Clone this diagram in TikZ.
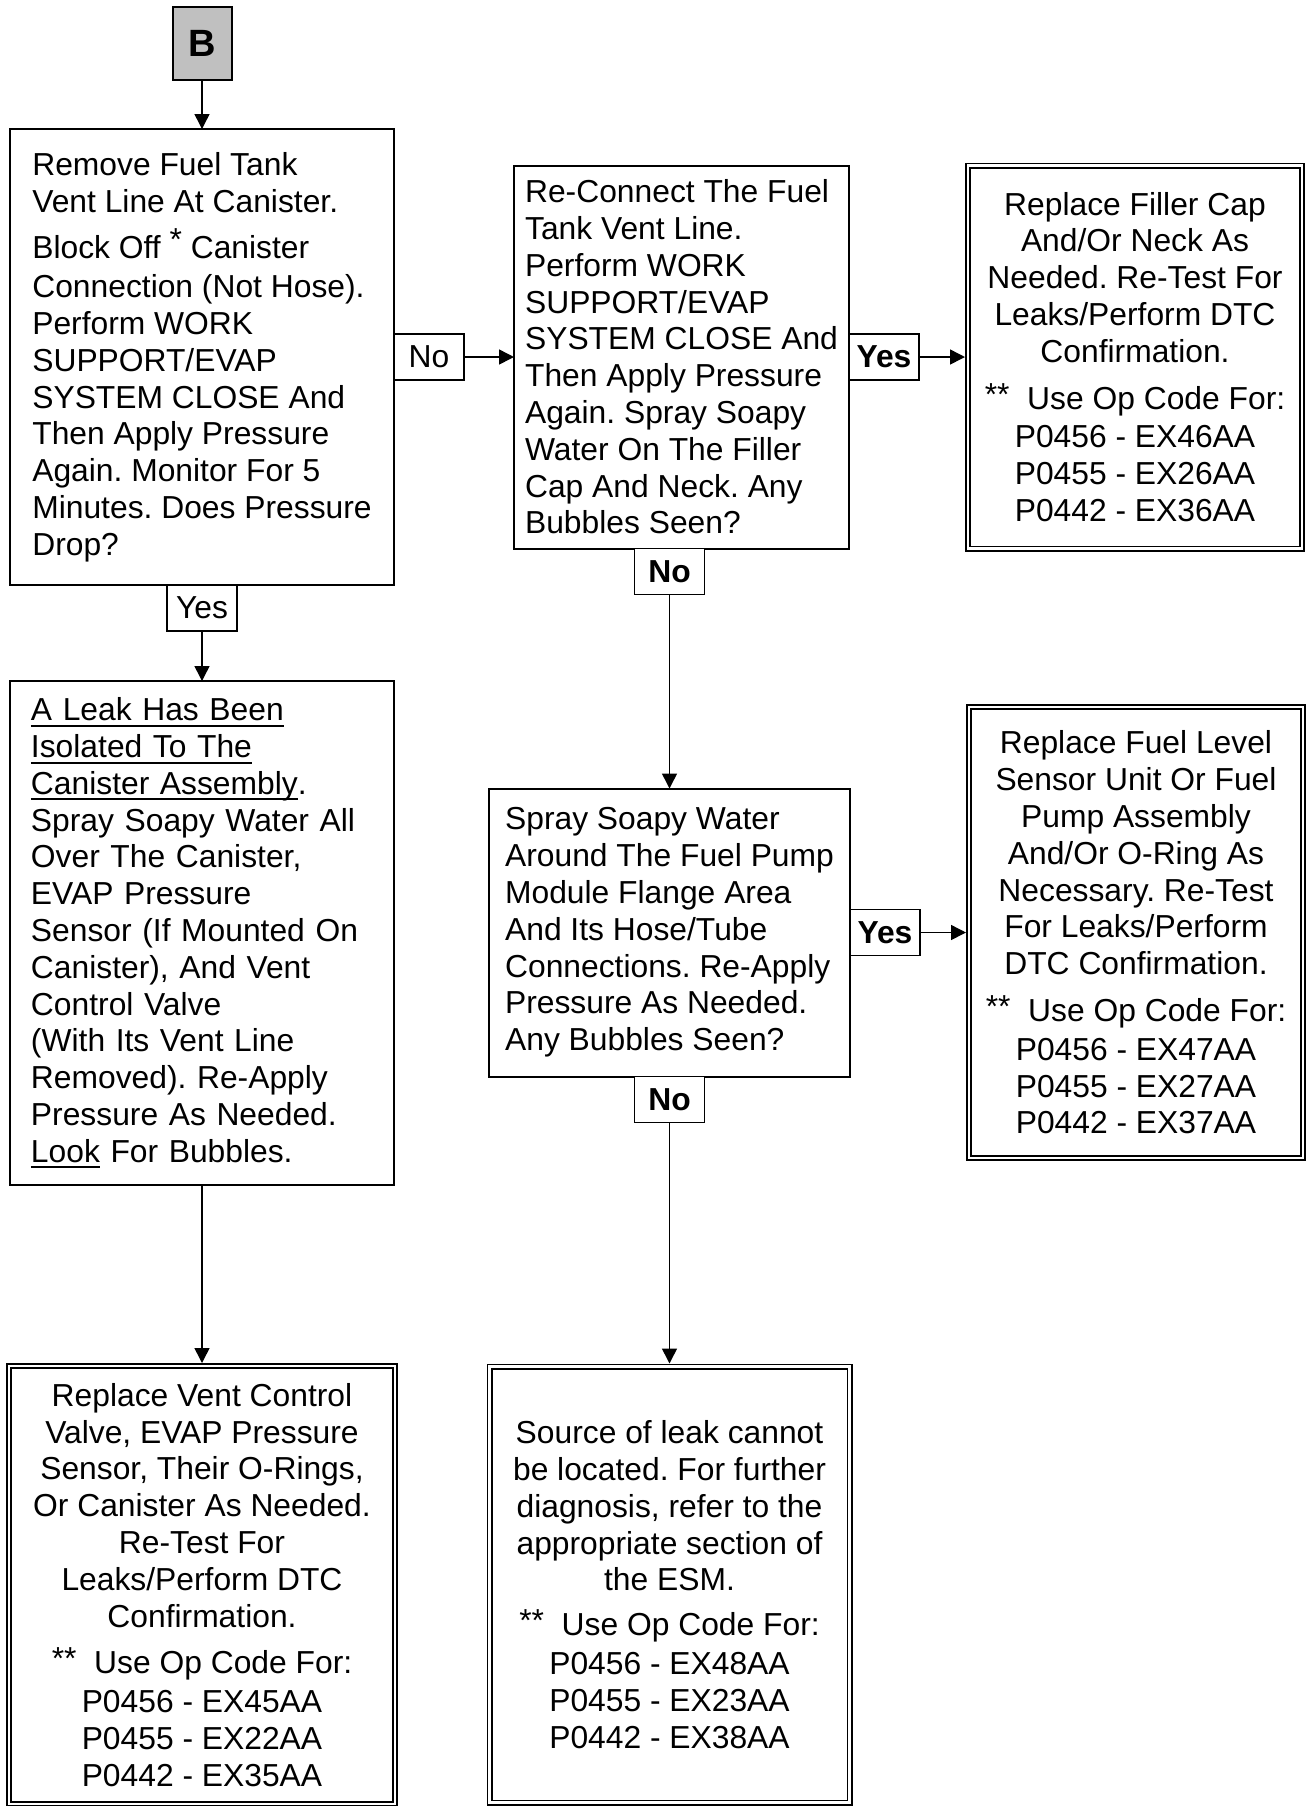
\documentclass[tikz,border=0pt]{standalone}
\usepackage{fontspec}
\setmainfont{Liberation Sans}
\usepackage{xcolor}
\usepackage{tikz}
\usetikzlibrary{positioning,arrows.meta}

\definecolor{bgrey}{RGB}{192,192,192}
\newcommand{\bodyfont}{\fontsize{15.9pt}{18.4pt}\selectfont}
\newcommand{\undr}[1]{\leavevmode\sbox0{#1}\rlap{\rule[-3pt]{\wd0}{1pt}}\usebox0}
\frenchspacing

\begin{document}
\begin{tikzpicture}[x=0.5pt, y=-0.5pt, >={Triangle[length=7.5pt,width=7.5pt]}, font=\bodyfont]
\tikzstyle{stepbox}=[
    draw, line width=1pt,
    align=left,
    inner sep=4pt, outer sep=0pt
]
\tikzstyle{endbox}=[
    draw, double, line width=0.8pt, double distance=1.4pt,
    align=center,
    inner sep=4pt, outer sep=1.5pt
]
\tikzstyle{lbl}=[
    draw, line width=0.7pt, fill=white,
    minimum width=35pt, minimum height=23pt,
    inner sep=0pt, outer sep=0pt
]
\tikzstyle{conn}=[->, line width=0.75pt]

\useasboundingbox (0,0) rectangle (1307,1806);

% left column
\node[stepbox, minimum width=192pt, minimum height=228pt] (drop) at (202,357) {Remove Fuel Tank\\
Vent Line At Canister.\\[5pt]
Block Off \raisebox{4pt}{*} Canister\\[1pt]
Connection (Not Hose).\\
Perform WORK\\
SUPPORT/EVAP\\
SYSTEM CLOSE And\\
Then Apply Pressure\\
Again. Monitor For 5\\
Minutes. Does Pressure\\
Drop?};
\node[draw, line width=1pt, fill=bgrey, minimum width=29.5pt, minimum height=36.5pt,
      font=\fontsize{19pt}{22pt}\selectfont\bfseries, above=24pt of drop] (bee) {B};
\node[lbl, below=0pt of drop] (lyes0) {Yes};
\node[stepbox, text width=171pt, below=25pt of lyes0, minimum width=192pt, minimum height=252pt] (canister) {\undr{A Leak Has Been}\\
\undr{Isolated To The}\\
\undr{Canister Assembly}.\\
Spray Soapy Water All\\
Over The Canister,\\
EVAP Pressure\\
Sensor (If Mounted On\\
Canister), And Vent\\
Control Valve\\
(With Its Vent Line\\
Removed). Re-Apply\\
Pressure As Needed.\\
\undr{Look} For Bubbles.};
\node[endbox, below=89pt of canister, minimum width=193pt, minimum height=219pt] (valve) {Replace Vent Control\\
Valve, EVAP Pressure\\
Sensor, Their O-Rings,\\
Or Canister As Needed.\\
Re-Test For\\
Leaks/Perform DTC\\
Confirmation.\\[5pt]
\raisebox{2pt}{**}\ \ Use Op Code For:\\[1pt]
P0456 - EX45AA\\
P0455 - EX22AA\\
P0442 - EX35AA};

% middle column
\node[lbl, right=0pt of drop] (lno) {No};
\node[stepbox, right=25pt of lno, minimum width=167.5pt, minimum height=191.5pt] (recon) {Re-Connect The Fuel\\
Tank Vent Line.\\
Perform WORK\\
SUPPORT/EVAP\\
SYSTEM CLOSE And\\
Then Apply Pressure\\
Again. Spray Soapy\\
Water On The Filler\\
Cap And Neck. Any\\
Bubbles Seen?};
\node[lbl, font=\bodyfont\bfseries, below=0pt of recon, xshift=-6pt] (lno2) {No};
\node[stepbox, below=97pt of lno2, minimum width=180.5pt, minimum height=144pt] (pump) {Spray Soapy Water\\
Around The Fuel Pump\\
Module Flange Area\\
And Its Hose/Tube\\
Connections. Re-Apply\\
Pressure As Needed.\\
Any Bubbles Seen?};
\node[lbl, font=\bodyfont\bfseries, below=0pt of pump] (lno3) {No};
\node[endbox, below=120.5pt of lno3, minimum width=180pt, minimum height=218pt] (esm) {Source of leak cannot\\
be located. For further\\
diagnosis, refer to the\\
appropriate section of\\
the ESM.\\[4pt]
\raisebox{2pt}{**}\ \ Use Op Code For:\\[1pt]
P0456 - EX48AA\\
P0455 - EX23AA\\
P0442 - EX38AA};

% right column
\node[lbl, font=\bodyfont\bfseries, right=0pt of recon] (lyes1) {Yes};
\node[endbox, right=23pt of lyes1, minimum width=167pt, minimum height=191.5pt] (cap) {Replace Filler Cap\\
And/Or Neck As\\
Needed. Re-Test For\\
Leaks/Perform DTC\\
Confirmation.\\[5pt]
\raisebox{2pt}{**}\ \ Use Op Code For:\\[1pt]
P0456 - EX46AA\\
P0455 - EX26AA\\
P0442 - EX36AA};
\node[lbl, font=\bodyfont\bfseries, right=0pt of pump] (lyes2) {Yes};
\node[endbox, right=23pt of lyes2, minimum width=167pt, minimum height=225.5pt] (sender) {Replace Fuel Level\\
Sensor Unit Or Fuel\\
Pump Assembly\\
And/Or O-Ring As\\
Necessary. Re-Test\\
For Leaks/Perform\\
DTC Confirmation.\\[5pt]
\raisebox{2pt}{**}\ \ Use Op Code For:\\[1pt]
P0456 - EX47AA\\
P0455 - EX27AA\\
P0442 - EX37AA};

\draw[conn] (bee) -- (drop);
\draw[conn] (lno) -- (recon);
\draw[conn] (lyes1) -- (cap);
\draw[conn] (lno2) -- (pump);
\draw[conn] (lyes2) -- (sender);
\draw[conn] (lno3) -- (esm);
\draw[conn] (lyes0) -- (canister);
\draw[conn] (canister) -- (valve);
\end{tikzpicture}
\end{document}
